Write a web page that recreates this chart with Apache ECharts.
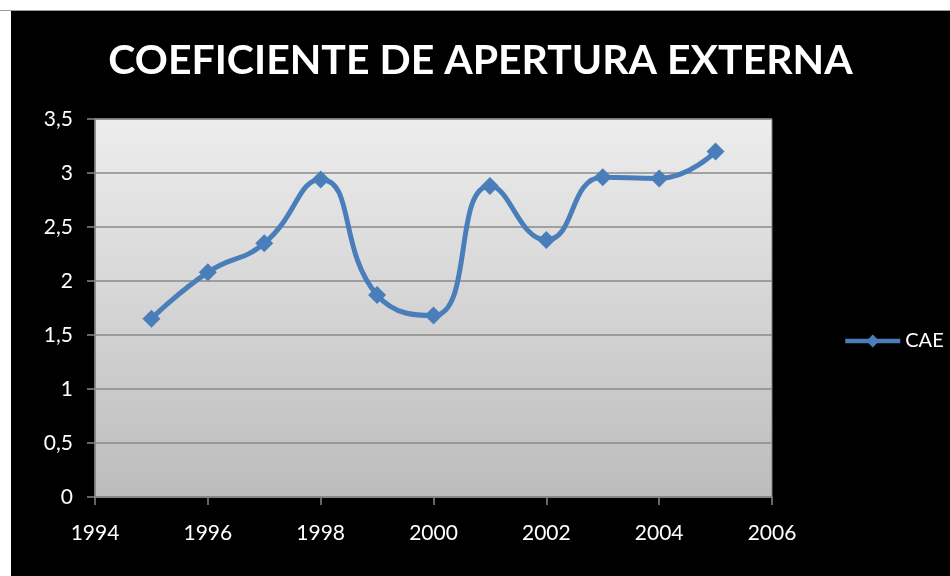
<!DOCTYPE html>
<html>
<head>
<meta charset="utf-8">
<script src="https://cdn.jsdelivr.net/npm/echarts@6/dist/echarts.min.js"></script>
<style>
  html, body { margin: 0; padding: 0; background: #fff; }
  #main { position: absolute; left: 11px; top: 11px; width: 939px; height: 565px; }
  #edge { position: absolute; left: 0; top: 10px; width: 950px; height: 1px; background: #9a9a9a; }
</style>
</head>
<body>
<div id="edge"></div>
<div id="main"></div>
<script>
var years = [1995, 1996, 1997, 1998, 1999, 2000, 2001, 2002, 2003, 2004, 2005]
var cae = [1.65, 2.08, 2.35, 2.94, 1.87, 1.68, 2.88, 2.38, 2.96, 2.95, 3.2]
var font = 'Lato, "Open Sans", sans-serif'

var chart = echarts.init(document.getElementById('main'))
var option = {
  backgroundColor: '#000',
  animation: false,
  title: {
    text: 'COEFICIENTE DE APERTURA EXTERNA',
    left: 'center',
    top: 24,
    textStyle: { color: '#fff', fontSize: 41, fontWeight: 'bold', fontFamily: font }
  },
  legend: {
    data: ['CAE'],
    left: 827,
    top: 315,
    orient: 'vertical',
    itemWidth: 55,
    itemHeight: 16,
    itemGap: 6,
    lineStyle: { width: 4.5 },
    textStyle: { color: '#fff', fontSize: 20, fontFamily: font }
  },
  grid: {
    left: 84,
    top: 108,
    width: 677,
    height: 378,
    show: true,
    borderColor: '#7f7f7f',
    borderWidth: 1,
    backgroundColor: {
      type: 'linear', x: 0, y: 0, x2: 0, y2: 1,
      colorStops: [{ offset: 0, color: '#ededed' }, { offset: 1, color: '#bcbcbc' }]
    }
  },
  xAxis: {
    type: 'value',
    min: 1994,
    max: 2006,
    interval: 2,
    splitLine: { show: false },
    axisLine: { show: true, lineStyle: { color: '#868686', width: 1.5 } },
    axisTick: { show: true, length: 8, lineStyle: { color: '#868686', width: 1.5 } },
    axisLabel: {
      color: '#fff', fontSize: 21, fontFamily: font, margin: 26,
      formatter: function (v) { return String(v) }
    }
  },
  yAxis: {
    type: 'value',
    min: 0,
    max: 3.5,
    interval: 0.5,
    splitLine: { show: true, lineStyle: { color: '#8a8a8a', width: 1.5 } },
    axisLine: { show: true, lineStyle: { color: '#868686', width: 1.5 } },
    axisTick: { show: true, length: 8, lineStyle: { color: '#868686', width: 1.5 } },
    axisLabel: {
      color: '#fff', fontSize: 21, fontFamily: font, margin: 22,
      formatter: function (v) { return String(v).replace('.', ',') }
    }
  },
  series: [{
    name: 'CAE',
    type: 'line',
    data: years.map(function (y, i) { return [y, cae[i]] }),
    smooth: 0.5,
    symbol: 'diamond',
    symbolSize: 18,
    itemStyle: { color: '#4a7ebb' },
    lineStyle: { color: '#4a7ebb', width: 5 }
  }]
}
chart.setOption(option)
</script>
</body>
</html>
